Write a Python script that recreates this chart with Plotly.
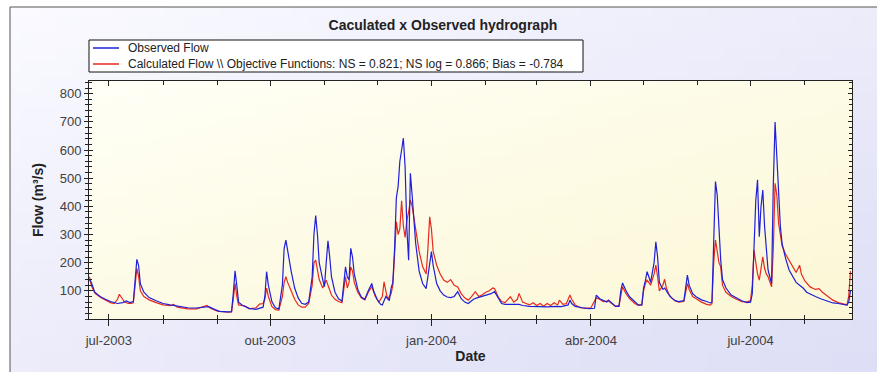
import base64
import struct
import zlib

import plotly.graph_objects as go

# ---------------- data ----------------
obs_dates = [
    "2003-06-20", "2003-06-21", "2003-06-23", "2003-06-26", "2003-06-29", "2003-07-02", "2003-07-06", "2003-07-09",
    "2003-07-11", "2003-07-13", "2003-07-15", "2003-07-16", "2003-07-17", "2003-07-18", "2003-07-19", "2003-07-21",
    "2003-07-24", "2003-07-28", "2003-08-01", "2003-08-05", "2003-08-10", "2003-08-15", "2003-08-20", "2003-08-25",
    "2003-08-27", "2003-08-30", "2003-09-02", "2003-09-07", "2003-09-09", "2003-09-10", "2003-09-11", "2003-09-12",
    "2003-09-13", "2003-09-15", "2003-09-19", "2003-09-23", "2003-09-25", "2003-09-27", "2003-09-28", "2003-09-29",
    "2003-09-30", "2003-10-02", "2003-10-04", "2003-10-06", "2003-10-08", "2003-10-09", "2003-10-10", "2003-10-11",
    "2003-10-13", "2003-10-15", "2003-10-17", "2003-10-19", "2003-10-21", "2003-10-23", "2003-10-25", "2003-10-26",
    "2003-10-27", "2003-10-28", "2003-10-29", "2003-10-31", "2003-11-01", "2003-11-02", "2003-11-03", "2003-11-04",
    "2003-11-05", "2003-11-07", "2003-11-09", "2003-11-11", "2003-11-13", "2003-11-14", "2003-11-15", "2003-11-16",
    "2003-11-17", "2003-11-18", "2003-11-20", "2003-11-22", "2003-11-24", "2003-11-26", "2003-11-28", "2003-11-29",
    "2003-12-01", "2003-12-03", "2003-12-04", "2003-12-06", "2003-12-08", "2003-12-09", "2003-12-10", "2003-12-11",
    "2003-12-12", "2003-12-13", "2003-12-14", "2003-12-15", "2003-12-16", "2003-12-17", "2003-12-18", "2003-12-19",
    "2003-12-20", "2003-12-21", "2003-12-22", "2003-12-23", "2003-12-25", "2003-12-27", "2003-12-29", "2003-12-31",
    "2004-01-01", "2004-01-02", "2004-01-04", "2004-01-06", "2004-01-08", "2004-01-10", "2004-01-12", "2004-01-14",
    "2004-01-16", "2004-01-18", "2004-01-20", "2004-01-22", "2004-01-25", "2004-01-27", "2004-01-30", "2004-02-02",
    "2004-02-04", "2004-02-06", "2004-02-08", "2004-02-10", "2004-02-12", "2004-02-20", "2004-02-22", "2004-02-26",
    "2004-03-02", "2004-03-07", "2004-03-12", "2004-03-15", "2004-03-19", "2004-03-20", "2004-03-21", "2004-03-23",
    "2004-03-27", "2004-03-31", "2004-04-03", "2004-04-04", "2004-04-06", "2004-04-08", "2004-04-10", "2004-04-11",
    "2004-04-13", "2004-04-15", "2004-04-17", "2004-04-18", "2004-04-19", "2004-04-21", "2004-04-23", "2004-04-26",
    "2004-04-28", "2004-04-30", "2004-05-01", "2004-05-02", "2004-05-03", "2004-05-04", "2004-05-05", "2004-05-07",
    "2004-05-08", "2004-05-09", "2004-05-10", "2004-05-12", "2004-05-13", "2004-05-15", "2004-05-17", "2004-05-19",
    "2004-05-21", "2004-05-24", "2004-05-25", "2004-05-26", "2004-05-27", "2004-05-29", "2004-05-31", "2004-06-03",
    "2004-06-06", "2004-06-08", "2004-06-09", "2004-06-10", "2004-06-11", "2004-06-12", "2004-06-13", "2004-06-14",
    "2004-06-15", "2004-06-17", "2004-06-20", "2004-06-23", "2004-06-26", "2004-06-29", "2004-07-01", "2004-07-02",
    "2004-07-03", "2004-07-04", "2004-07-05", "2004-07-06", "2004-07-07", "2004-07-08", "2004-07-09", "2004-07-10",
    "2004-07-11", "2004-07-12", "2004-07-13", "2004-07-14", "2004-07-15", "2004-07-16", "2004-07-17", "2004-07-18",
    "2004-07-19", "2004-07-21", "2004-07-23", "2004-07-25", "2004-07-27", "2004-07-29", "2004-07-31", "2004-08-02",
    "2004-08-04", "2004-08-07", "2004-08-10", "2004-08-14", "2004-08-17", "2004-08-20", "2004-08-23", "2004-08-25",
    "2004-08-26", "2004-08-27",
]
obs_flow = [
    140, 130, 95, 80, 70, 62, 55, 58,
    64, 58, 62, 150, 212, 190, 125, 95,
    76, 65, 55, 50, 44, 40, 39, 42,
    44, 35, 27, 25, 26, 90, 171, 120,
    60, 50, 38, 34, 38, 42, 80, 168,
    120, 62, 40, 36, 120, 250, 280, 240,
    170, 110, 75, 56, 52, 60, 150, 300,
    367, 300, 200, 140, 115, 200, 278, 220,
    150, 95, 72, 64, 185, 150, 140, 251,
    220, 160, 105, 78, 70, 100, 126, 100,
    70, 52, 50, 80, 65, 110, 130, 250,
    430, 470, 560, 600, 642, 540, 320, 209,
    517, 440, 350, 270, 170, 126, 108, 200,
    239, 190, 126, 100, 85, 78, 76, 80,
    97, 72, 60, 55, 70, 75, 80, 85,
    90, 97, 75, 55, 52, 52, 48, 45,
    44, 43, 45, 44, 50, 67, 55, 45,
    40, 37, 38, 85, 72, 65, 60, 67,
    55, 45, 45, 100, 128, 100, 79, 60,
    50, 50, 110, 135, 168, 150, 130, 200,
    274, 220, 130, 105, 110, 90, 75, 65,
    62, 65, 110, 156, 120, 90, 79, 68,
    62, 57, 60, 300, 488, 440, 300, 209,
    140, 110, 85, 75, 65, 58, 60, 90,
    227, 420, 494, 292, 400, 458, 330, 240,
    174, 150, 126, 480, 699, 577, 440, 330,
    268, 215, 174, 150, 130, 120, 110, 95,
    90, 80, 72, 62, 57, 55, 50, 49,
    60, 100,
]

calc_dates = [
    "2003-06-20", "2003-06-21", "2003-06-23", "2003-06-26", "2003-06-29", "2003-07-02", "2003-07-04", "2003-07-06",
    "2003-07-07", "2003-07-08", "2003-07-10", "2003-07-12", "2003-07-14", "2003-07-15", "2003-07-16", "2003-07-17",
    "2003-07-18", "2003-07-19", "2003-07-21", "2003-07-24", "2003-07-28", "2003-08-01", "2003-08-05", "2003-08-07",
    "2003-08-09", "2003-08-15", "2003-08-20", "2003-08-25", "2003-08-26", "2003-08-28", "2003-09-01", "2003-09-07",
    "2003-09-09", "2003-09-10", "2003-09-11", "2003-09-12", "2003-09-13", "2003-09-15", "2003-09-17", "2003-09-19",
    "2003-09-23", "2003-09-25", "2003-09-27", "2003-09-28", "2003-09-29", "2003-09-30", "2003-10-02", "2003-10-04",
    "2003-10-06", "2003-10-08", "2003-10-09", "2003-10-10", "2003-10-11", "2003-10-13", "2003-10-15", "2003-10-17",
    "2003-10-19", "2003-10-21", "2003-10-23", "2003-10-25", "2003-10-26", "2003-10-27", "2003-10-28", "2003-10-29",
    "2003-10-31", "2003-11-01", "2003-11-02", "2003-11-03", "2003-11-04", "2003-11-05", "2003-11-07", "2003-11-09",
    "2003-11-11", "2003-11-13", "2003-11-14", "2003-11-15", "2003-11-16", "2003-11-17", "2003-11-18", "2003-11-20",
    "2003-11-22", "2003-11-24", "2003-11-26", "2003-11-28", "2003-11-30", "2003-12-02", "2003-12-04", "2003-12-05",
    "2003-12-06", "2003-12-07", "2003-12-09", "2003-12-10", "2003-12-11", "2003-12-12", "2003-12-13", "2003-12-14",
    "2003-12-15", "2003-12-16", "2003-12-17", "2003-12-18", "2003-12-19", "2003-12-20", "2003-12-21", "2003-12-22",
    "2003-12-23", "2003-12-25", "2003-12-27", "2003-12-29", "2003-12-30", "2003-12-31", "2004-01-01", "2004-01-02",
    "2004-01-04", "2004-01-06", "2004-01-08", "2004-01-10", "2004-01-12", "2004-01-14", "2004-01-16", "2004-01-18",
    "2004-01-20", "2004-01-22", "2004-01-24", "2004-01-26", "2004-01-28", "2004-01-30", "2004-02-01", "2004-02-03",
    "2004-02-05", "2004-02-06", "2004-02-08", "2004-02-10", "2004-02-12", "2004-02-14", "2004-02-15", "2004-02-17",
    "2004-02-19", "2004-02-20", "2004-02-22", "2004-02-24", "2004-02-26", "2004-02-28", "2004-03-01", "2004-03-03",
    "2004-03-05", "2004-03-07", "2004-03-09", "2004-03-11", "2004-03-13", "2004-03-14", "2004-03-16", "2004-03-18",
    "2004-03-20", "2004-03-21", "2004-03-23", "2004-03-26", "2004-03-29", "2004-04-01", "2004-04-04", "2004-04-06",
    "2004-04-08", "2004-04-11", "2004-04-13", "2004-04-15", "2004-04-17", "2004-04-18", "2004-04-19", "2004-04-21",
    "2004-04-23", "2004-04-26", "2004-04-28", "2004-04-30", "2004-05-01", "2004-05-02", "2004-05-03", "2004-05-04",
    "2004-05-05", "2004-05-07", "2004-05-08", "2004-05-09", "2004-05-10", "2004-05-12", "2004-05-13", "2004-05-14",
    "2004-05-16", "2004-05-19", "2004-05-21", "2004-05-24", "2004-05-25", "2004-05-26", "2004-05-27", "2004-05-29",
    "2004-05-31", "2004-06-03", "2004-06-06", "2004-06-08", "2004-06-09", "2004-06-10", "2004-06-11", "2004-06-12",
    "2004-06-13", "2004-06-14", "2004-06-15", "2004-06-17", "2004-06-20", "2004-06-23", "2004-06-26", "2004-06-29",
    "2004-07-01", "2004-07-02", "2004-07-03", "2004-07-04", "2004-07-05", "2004-07-06", "2004-07-07", "2004-07-08",
    "2004-07-09", "2004-07-10", "2004-07-11", "2004-07-12", "2004-07-13", "2004-07-14", "2004-07-15", "2004-07-16",
    "2004-07-17", "2004-07-18", "2004-07-19", "2004-07-21", "2004-07-23", "2004-07-25", "2004-07-27", "2004-07-29",
    "2004-07-30", "2004-08-01", "2004-08-04", "2004-08-07", "2004-08-09", "2004-08-11", "2004-08-14", "2004-08-17",
    "2004-08-20", "2004-08-23", "2004-08-25", "2004-08-26", "2004-08-27",
]
calc_flow = [
    150, 120, 92, 78, 68, 58, 55, 70,
    88, 80, 60, 55, 55, 58, 130, 180,
    150, 100, 80, 68, 58, 50, 47, 52,
    42, 36, 36, 45, 48, 38, 28, 24,
    25, 70, 127, 80, 50, 48, 45, 36,
    40, 53, 55, 70, 110, 80, 45, 33,
    32, 80, 130, 150, 130, 100, 70, 50,
    42, 42, 55, 120, 200, 209, 180, 140,
    110, 126, 138, 120, 100, 85, 70, 62,
    58, 150, 110, 130, 185, 170, 130, 95,
    75, 68, 95, 115, 80, 60, 80, 132,
    100, 70, 90, 120, 230, 345, 300, 320,
    420, 330, 290, 350, 380, 423, 400, 360,
    328, 240, 185, 160, 250, 363, 320, 240,
    191, 160, 138, 130, 140, 120, 114, 90,
    75, 67, 80, 97, 80, 86, 95, 100,
    110, 108, 80, 62, 58, 70, 79, 60,
    70, 91, 60, 55, 50, 58, 48, 55,
    45, 55, 48, 58, 50, 67, 52, 55,
    85, 70, 50, 40, 38, 40, 75, 70,
    62, 64, 55, 45, 48, 90, 115, 90,
    72, 55, 48, 50, 100, 125, 138, 130,
    120, 160, 191, 150, 100, 120, 141, 110,
    80, 65, 60, 62, 95, 126, 105, 80,
    72, 60, 52, 49, 55, 200, 280, 240,
    200, 185, 120, 95, 80, 70, 62, 61,
    65, 120, 245, 200, 160, 138, 180, 221,
    180, 160, 150, 130, 114, 250, 482, 440,
    340, 300, 260, 230, 209, 185, 165, 191,
    160, 135, 114, 105, 108, 95, 80, 67,
    58, 52, 50, 80, 170,
]

x_range = ["2003-06-19 17:00", "2004-08-27 21:00"]
y_range = [0, 845]
x_tick_vals = ["2003-07-01", "2003-10-01", "2004-01-01", "2004-04-01", "2004-07-01"]
x_tick_text = ["jul-2003", "out-2003", "jan-2004", "abr-2004", "jul-2004"]
y_tick_vals = [100, 200, 300, 400, 500, 600, 700, 800]

title_text = "Caculated x Observed hydrograph"
obs_name = "Observed Flow"
calc_name = "Calculated Flow \\\\ Objective Functions: NS = 0.821; NS log = 0.866; Bias = -0.784"
x_title = "Date"
y_title = "Flow (m³/s)"

# ---------------- figure ----------------
FONT = "Liberation Sans, Arial, sans-serif"
W, H = 877, 372
ML, MR, MT, MB = 89, 25, 81, 53
PW, PH = W - ML - MR, H - MT - MB
OBS_COLOR = "#1f1fd8"
CALC_COLOR = "#e8291d"


def px_x(p):
    return (p - ML) / PW


def px_y(p):
    return (H - MB - p) / PH


def gradient_png(w, h, c0, c1):
    """Small diagonal-gradient PNG (data URI) used as a background image."""
    rows = []
    for j in range(h):
        row = bytearray([0])
        for i in range(w):
            t = 0.5 * (i / (w - 1) + j / (h - 1))
            row.extend(int(round(a + (b - a) * t)) for a, b in zip(c0, c1))
        rows.append(bytes(row))
    raw = b"".join(rows)

    def chunk(tag, data):
        return struct.pack(">I", len(data)) + tag + data + struct.pack(">I", zlib.crc32(tag + data) & 0xFFFFFFFF)

    png = (b"\x89PNG\r\n\x1a\n" + chunk(b"IHDR", struct.pack(">IIBBBBB", w, h, 8, 2, 0, 0, 0))
           + chunk(b"IDAT", zlib.compress(raw, 9)) + chunk(b"IEND", b""))
    return "data:image/png;base64," + base64.b64encode(png).decode()


fig = go.Figure()
fig.add_trace(go.Scatter(
    x=calc_dates, y=calc_flow, name=calc_name, mode="lines",
    line=dict(color=CALC_COLOR, width=1.2), showlegend=False,
))
fig.add_trace(go.Scatter(
    x=obs_dates, y=obs_flow, name=obs_name, mode="lines",
    line=dict(color=OBS_COLOR, width=1.2), showlegend=False,
))

tick_font = dict(family=FONT, size=13, color="#404040")
axis_common = dict(showgrid=False, zeroline=False, linecolor="#222", linewidth=1,
                   tickcolor="#222")

fig.update_layout(
    width=W, height=H,
    margin=dict(l=ML, r=MR, t=MT, b=MB, autoexpand=False),
    paper_bgcolor="white",
    plot_bgcolor="rgba(0,0,0,0)",
    font=dict(family=FONT, size=11, color="#222"),
    title=dict(text="<b>" + title_text + "</b>", x=0.505, xref="container", xanchor="center",
               y=1 - 25 / H, yref="container", yanchor="middle",
               font=dict(family=FONT, size=14, color="#222")),
    showlegend=False,
    xaxis=dict(type="date", range=x_range, tickmode="array", tickvals=x_tick_vals,
               ticktext=x_tick_text, ticks="outside", ticklen=6, tickfont=tick_font,
               ticklabelstandoff=3, showline=True, mirror=True,
               minor=dict(ticks="outside", ticklen=4, dtick="M1", tick0="2003-07-01",
                          tickcolor="#222"),
               title=dict(text="<b>" + x_title + "</b>",
                          font=dict(family=FONT, size=14, color="#222"), standoff=4),
               **axis_common),
    xaxis2=dict(type="date", range=x_range, overlaying="x", anchor="y", side="bottom",
                tickmode="array", tickvals=x_tick_vals, ticks="inside", ticklen=5,
                showticklabels=False, showline=False, mirror="ticks",
                minor=dict(ticks="inside", ticklen=4, dtick="M1", tick0="2003-07-01",
                           tickcolor="#222"),
                showgrid=False, zeroline=False, tickcolor="#222"),
    yaxis=dict(range=y_range, tickmode="array", tickvals=y_tick_vals, ticks="outside",
               ticklen=4, tickfont=tick_font, showline=True, mirror=True,
               minor=dict(ticks="outside", ticklen=3, dtick=20, tick0=0, tickcolor="#222"),
               title=dict(text="<b>" + y_title + "</b>",
                          font=dict(family=FONT, size=14, color="#222"), standoff=12),
               **axis_common),
    yaxis2=dict(range=y_range, overlaying="y", anchor="x", side="left",
                tickmode="array", tickvals=y_tick_vals, ticks="inside", ticklen=4,
                showticklabels=False, showline=False, mirror="ticks",
                minor=dict(ticks="inside", ticklen=3, dtick=20, tick0=0, tickcolor="#222"),
                showgrid=False, zeroline=False, tickcolor="#222"),
)

# invisible helper trace so the overlay (tick-only) axes are drawn
fig.add_trace(go.Scatter(x=[x_range[0]], y=[0], xaxis="x2", yaxis="y2", mode="lines",
                         showlegend=False, hoverinfo="skip", line=dict(width=0)))

# gradient backgrounds: outer panel (white -> lavender) and plot area (cream)
fig.add_layout_image(dict(
    source=gradient_png(48, 24, (250, 250, 255), (222, 222, 246)),
    xref="paper", yref="paper", x=px_x(10), y=px_y(7), sizex=px_x(W) - px_x(10),
    sizey=px_y(7) - px_y(H), xanchor="left", yanchor="top", sizing="stretch", layer="below"))
fig.add_layout_image(dict(
    source=gradient_png(48, 24, (255, 255, 246), (251, 247, 214)),
    xref="paper", yref="paper", x=0, y=1, sizex=1, sizey=1,
    xanchor="left", yanchor="top", sizing="stretch", layer="below"))

# panel border
fig.add_shape(type="rect", xref="paper", yref="paper",
              x0=px_x(10), x1=px_x(W + 10), y0=px_y(H + 10), y1=px_y(7),
              fillcolor="rgba(0,0,0,0)", line=dict(color="#555", width=1), layer="above")

# legend box (drawn to match the compact legend of the reference)
LEG_L, LEG_R, LEG_T, LEG_B = 89, 583, 40, 72
fig.add_shape(type="rect", xref="paper", yref="paper",
              x0=px_x(LEG_L), x1=px_x(LEG_R), y0=px_y(LEG_B), y1=px_y(LEG_T),
              fillcolor="white", line=dict(color="#111", width=1), layer="above")
for name, color, row_y in [(obs_name, OBS_COLOR, 48), (calc_name, CALC_COLOR, 64)]:
    fig.add_shape(type="line", xref="paper", yref="paper",
                  x0=px_x(93), x1=px_x(119), y0=px_y(row_y), y1=px_y(row_y),
                  line=dict(color=color, width=1.5), layer="above")
    fig.add_annotation(text=name, xref="paper", yref="paper", x=px_x(126), y=px_y(row_y),
                       xanchor="left", yanchor="middle", showarrow=False,
                       font=dict(family=FONT, size=12, color="#222"))

fig.write_html("out.html")
